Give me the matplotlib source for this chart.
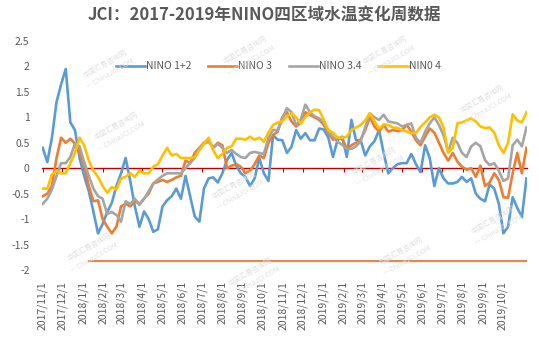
import numpy as np
import pandas as pd
import matplotlib
matplotlib.use('Agg')
import matplotlib.pyplot as plt
import matplotlib.dates as mdates
from matplotlib.ticker import FuncFormatter, FixedLocator

plt.rcParams['font.family'] = ['Noto Sans CJK SC', 'DejaVu Sans']

# weekly data, 2017/11/1 .. 2019/11/6
weeks = pd.date_range('2017-11-01', periods=106, freq='7D')
# month labels shown on the axis
month_ticks = pd.date_range('2017-11-01', '2019-10-01', freq='MS')

nino12 = [0.4, 0.12, 0.6, 1.3, 1.65, 1.95, 0.9, 0.75, 0.2, -0.15,
          -0.45, -0.85, -1.28, -1.1, -0.86, -0.68, -0.35, -0.1, 0.2, -0.25,
          -0.75, -1.15, -0.85, -1.0, -1.25, -1.2, -0.75, -0.63, -0.55, -0.4,
          -0.6, -0.15, -0.55, -0.95, -1.05, -0.4, -0.2, -0.18, -0.28, -0.1,
          0.16, 0.3, 0.05, -0.1, -0.17, -0.35, -0.2, 0.2, -0.1, -0.25,
          0.65, 0.56, 0.55, 0.3, 0.42, 0.75, 0.58, 0.69, 0.55, 0.55,
          0.78, 0.76, 0.6, 0.22, 0.56, 0.62, 0.22, 0.95, 0.55, 0.55,
          0.25, 0.43, 0.53, 0.75, 0.3, -0.1, 0.0, 0.08, 0.1, 0.1,
          0.28, 0.08, -0.08, 0.45, 0.2, -0.35, 0.0, -0.2, -0.3, -0.3,
          -0.27, -0.17, -0.27, -0.2, -0.5, -0.6, -0.65, -0.32, -0.4, -0.7,
          -1.28, -1.15, -0.57, -0.78, -0.96, -0.2]

nino3 = [-0.55, -0.5, -0.35, 0.2, 0.6, 0.5, 0.58, 0.48, 0.3, 0.05,
         -0.35, -0.65, -0.63, -1.0, -1.15, -1.28, -1.15, -0.75, -0.7, -0.75,
         -0.65, -0.7, -0.6, -0.5, -0.3, -0.27, -0.23, -0.27, -0.23, -0.18,
         -0.15, 0.15, 0.1, 0.3, 0.4, 0.5, 0.56, 0.4, 0.5, 0.45,
         0.0, 0.05, 0.08, 0.03, -0.1, -0.05, 0.08, 0.25, 0.2, 0.5,
         0.65, 0.72, 1.0, 1.1, 0.92, 0.82, 0.9, 1.1, 1.05, 1.0,
         0.95, 0.85, 0.69, 0.56, 0.6, 0.58, 0.38, 0.45, 0.5, 0.56,
         0.75, 1.0, 0.82, 0.72, 0.85, 0.72, 0.75, 0.73, 0.75, 0.85,
         0.72, 0.55, 0.45, 0.62, 0.78, 0.7, 0.5, 0.3, 0.15, 0.3,
         0.13, 0.03, -0.03, 0.0, -0.17, 0.05, -0.35, -0.28, -0.1, -0.23,
         -0.57, -0.58, -0.1, 0.3, -0.1, 0.4]

nino34 = [-0.7, -0.6, -0.42, -0.15, 0.1, 0.1, 0.22, 0.48, 0.43, 0.12,
          -0.15, -0.4, -0.55, -0.6, -0.9, -0.86, -0.92, -1.05, -0.65, -0.7,
          -0.6, -0.72, -0.6, -0.45, -0.3, -0.22, -0.15, -0.1, -0.1, -0.1,
          -0.1, 0.0, 0.1, 0.2, 0.4, 0.48, 0.52, 0.4, 0.48, 0.4,
          0.3, 0.36, 0.28, 0.22, 0.2, 0.3, 0.32, 0.3, 0.28, 0.6,
          0.75, 0.75, 0.98, 1.18, 1.1, 0.85, 0.95, 1.25, 1.1, 1.02,
          0.98, 0.9, 0.72, 0.62, 0.52, 0.46, 0.38, 0.38, 0.43, 0.53,
          0.8, 1.08, 1.0, 0.95, 1.05, 0.92, 0.9, 0.88, 0.82, 0.85,
          0.88, 0.6, 0.5, 0.72, 0.88, 1.0, 0.85, 0.65, 0.32, 0.6,
          0.5, 0.3, 0.22, 0.43, 0.5, 0.43, 0.16, 0.06, 0.1, -0.05,
          -0.25, -0.2, 0.45, 0.56, 0.43, 0.8]

nino4 = [-0.4, -0.4, -0.12, -0.05, -0.1, -0.1, 0.1, 0.3, 0.6, 0.45,
         0.15, -0.05, -0.17, -0.35, -0.48, -0.37, -0.42, -0.2, -0.17, -0.1,
         -0.17, -0.05, -0.1, -0.1, 0.03, 0.08, 0.25, 0.4, 0.25, 0.28,
         0.2, 0.2, 0.2, 0.22, 0.35, 0.48, 0.6, 0.35, 0.2, 0.28,
         0.4, 0.43, 0.58, 0.58, 0.56, 0.62, 0.56, 0.6, 0.52, 0.7,
         0.85, 0.9, 0.92, 1.02, 1.08, 1.0, 0.88, 1.0, 1.1, 1.15,
         1.14, 0.95, 0.75, 0.7, 0.6, 0.6, 0.62, 0.75, 0.8, 0.85,
         0.94, 1.08, 0.92, 0.78, 0.86, 0.85, 0.8, 0.79, 0.75, 0.72,
         0.69, 0.69, 0.81, 0.9, 1.0, 1.05, 1.0, 0.8, 0.3, 0.4,
         0.88, 0.9, 0.94, 0.98, 0.92, 0.82, 0.79, 0.8, 0.7, 0.45,
         0.3, 0.5, 1.06, 0.94, 0.9, 1.1]

# stray flat series at the bottom of the original chart
floor_level = -1.83
floor_start = 10

labels = ['NINO 1+2', 'NINO 3', 'NINO 3.4', 'NIN0 4']
colours = ['#5B9BD5', '#ED7D31', '#A5A5A5', '#FFC000']
txt = '#595959'

fig = plt.figure(figsize=(5.39, 3.46), dpi=100)
ax = fig.add_axes([0.078, 0.2197, 0.9, 0.6618])

# faint watermark
for (wx, wy) in [(0.20, 0.80), (0.22, 0.62), (0.17, 0.27), (0.46, 0.84), (0.44, 0.45),
                 (0.47, 0.20), (0.72, 0.84), (0.70, 0.52), (0.75, 0.26), (0.90, 0.70),
                 (0.92, 0.35)]:
    fig.text(wx, wy, '中国汇易咨询网\n— ChinaJCI.COM', rotation=30, fontsize=5,
             color='#E0E0E0', ha='center', va='center', zorder=0, linespacing=1.6)

series = [nino12, nino3, nino34, nino4]
for vals, lab, col in zip(series, labels, colours):
    ax.plot(weeks, vals, color=col, lw=1.9, label=lab, solid_joinstyle='round', zorder=3)

ax.plot(weeks[floor_start:], [floor_level] * len(weeks[floor_start:]),
        color='#E08A4E', lw=1.6, zorder=2)

ax.set_ylim(-2, 2.5)
ax.set_xlim(weeks[0] - pd.Timedelta(days=1), weeks[-1] + pd.Timedelta(days=1))
ax.set_yticks(np.arange(-2, 2.51, 0.5))
ax.yaxis.set_major_formatter(FuncFormatter(lambda v, p: '%g' % v))
ax.tick_params(axis='y', length=0, labelsize=7.5, labelcolor=txt, pad=9)

for s in ['left', 'right', 'top']:
    ax.spines[s].set_visible(False)
ax.spines['bottom'].set_position(('data', 0))
ax.spines['bottom'].set_color('#C00000')
ax.spines['bottom'].set_linewidth(1.0)
ax.spines['bottom'].set_zorder(1)

tick_pos = mdates.date2num(month_ticks.to_pydatetime())
ax.xaxis.set_major_locator(FixedLocator(tick_pos))
ax.tick_params(axis='x', length=3, color='#C00000', labelbottom=False, direction='out')

sec = ax.secondary_xaxis('bottom')
sec.xaxis.set_major_locator(FixedLocator(tick_pos))
def fmt(x, pos):
    d = mdates.num2date(x)
    return f'{d.year}/{d.month}/{d.day}'
sec.xaxis.set_major_formatter(FuncFormatter(fmt))
sec.spines['bottom'].set_visible(False)
sec.tick_params(axis='x', length=0, labelsize=7.5, labelcolor=txt, pad=8, labelrotation=90)

ax.legend(loc='center', bbox_to_anchor=(0.487, 0.89), ncol=4, frameon=False,
          fontsize=7.5, handlelength=2.8, columnspacing=1.6, handletextpad=0.1,
          labelcolor=txt)

fig.text(0.49, 0.955, 'JCI：2017-2019年NINO四区域水温变化周数据', ha='center', va='center',
         fontsize=12, fontweight='bold', color=txt)

fig.savefig('out.png', dpi=100)
